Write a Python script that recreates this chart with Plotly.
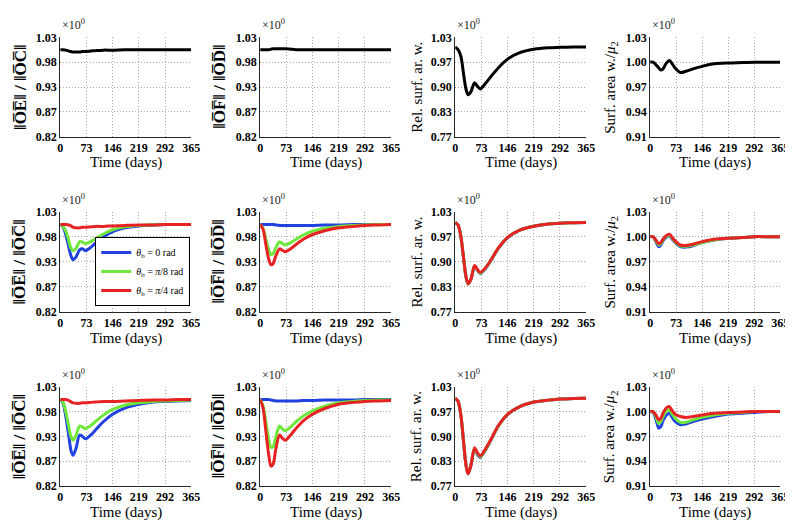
import plotly.graph_objects as go
from plotly.subplots import make_subplots

# ── Data ──────────────────────────────────────────────────────────────
T_DAYS = [0, 8, 16, 24, 30, 36, 44, 54, 62, 70, 85, 100, 120, 146, 180, 219, 260, 292, 330, 365]
X_TICKS = [0, 73, 146, 219, 292, 365]

# row 1: one black curve per panel
R1_OE_OC = [1.004, 1.004, 1.003, 1.001, 1.000, 0.999, 0.999, 0.999, 1.000, 1.000,
            1.001, 1.002, 1.003, 1.003, 1.004, 1.004, 1.004, 1.004, 1.004, 1.004]
R1_OF_OD = [1.004, 1.004, 1.004, 1.004, 1.005, 1.006, 1.006, 1.006, 1.006, 1.006,
            1.005, 1.004, 1.004, 1.004, 1.004, 1.004, 1.004, 1.004, 1.004, 1.004]
R1_REL_SURF = [1.005, 0.998, 0.980, 0.930, 0.895, 0.880, 0.888, 0.911, 0.902, 0.895,
               0.910, 0.928, 0.950, 0.973, 0.990, 0.999, 1.003, 1.004, 1.005, 1.005]
R1_SURF_MU = [1.000, 1.000, 0.997, 0.993, 0.9905, 0.992, 0.998, 1.002, 0.998, 0.993,
              0.9875, 0.989, 0.992, 0.995, 0.998, 0.999, 0.9995, 1.000, 1.000, 1.000]

# row 2: theta_b = 0, pi/8, pi/4
R2_OE_OC_0 = [1.003, 0.998, 0.980, 0.955, 0.937, 0.929, 0.935, 0.950, 0.952, 0.948,
              0.955, 0.965, 0.977, 0.988, 0.996, 1.000, 1.002, 1.003, 1.003, 1.003]
R2_OE_OC_8 = [1.003, 0.999, 0.988, 0.968, 0.953, 0.948, 0.953, 0.967, 0.966, 0.963,
              0.967, 0.974, 0.983, 0.992, 0.998, 1.001, 1.002, 1.003, 1.003, 1.003]
R2_OE_OC_4 = [1.003, 1.003, 1.003, 1.002, 1.000, 0.997, 0.996, 0.996, 0.997, 0.997,
              0.998, 0.999, 0.999, 1.000, 1.001, 1.002, 1.002, 1.003, 1.003, 1.003]

R2_OF_OD_0 = [1.003, 1.003, 1.003, 1.003, 1.003, 1.003, 1.002, 1.001, 1.001, 1.001,
              1.001, 1.001, 1.001, 1.001, 1.002, 1.002, 1.003, 1.003, 1.003, 1.003]
R2_OF_OD_8 = [1.003, 0.995, 0.972, 0.950, 0.940, 0.942, 0.955, 0.967, 0.963, 0.960,
              0.965, 0.972, 0.981, 0.989, 0.995, 0.999, 1.001, 1.002, 1.003, 1.003]
R2_OF_OD_4 = [1.003, 0.993, 0.960, 0.930, 0.919, 0.921, 0.938, 0.952, 0.949, 0.946,
              0.952, 0.961, 0.972, 0.982, 0.990, 0.996, 0.999, 1.001, 1.002, 1.003]

R2_REL_SURF_0 = [1.002, 0.995, 0.965, 0.905, 0.861, 0.842, 0.854, 0.889, 0.878, 0.869,
                 0.883, 0.904, 0.934, 0.962, 0.982, 0.992, 0.998, 1.000, 1.001, 1.002]
R2_REL_SURF_8 = [1.002, 0.995, 0.965, 0.905, 0.862, 0.842, 0.855, 0.889, 0.879, 0.870,
                 0.884, 0.904, 0.935, 0.963, 0.982, 0.992, 0.998, 1.000, 1.001, 1.002]
R2_REL_SURF_4 = [1.002, 0.995, 0.965, 0.905, 0.862, 0.843, 0.855, 0.890, 0.880, 0.872,
                 0.885, 0.905, 0.935, 0.963, 0.982, 0.992, 0.998, 1.000, 1.001, 1.002]

R2_SURF_MU_0 = [1.000, 1.000, 0.994, 0.988, 0.990, 0.995, 0.999, 1.001, 0.997, 0.993,
                0.988, 0.9875, 0.989, 0.993, 0.996, 0.998, 0.999, 1.000, 1.000, 1.000]
R2_SURF_MU_8 = [1.000, 1.000, 0.995, 0.990, 0.9915, 0.996, 1.000, 1.002, 0.998, 0.994,
                0.989, 0.9885, 0.990, 0.993, 0.996, 0.998, 0.999, 1.000, 1.000, 1.000]
R2_SURF_MU_4 = [1.000, 1.000, 0.996, 0.9915, 0.993, 0.997, 1.001, 1.003, 0.999, 0.995,
                0.990, 0.9895, 0.991, 0.994, 0.997, 0.998, 0.999, 1.000, 1.000, 1.000]

# row 3: theta_b = 0, pi/8, pi/4
R3_OE_OC_0 = [1.003, 0.995, 0.965, 0.925, 0.895, 0.885, 0.900, 0.928, 0.925, 0.920,
              0.928, 0.940, 0.956, 0.972, 0.985, 0.993, 0.998, 0.999, 1.000, 1.001]
R3_OE_OC_8 = [1.003, 0.997, 0.975, 0.945, 0.924, 0.917, 0.927, 0.947, 0.945, 0.941,
              0.948, 0.958, 0.970, 0.982, 0.991, 0.996, 0.999, 1.000, 1.001, 1.002]
R3_OE_OC_4 = [1.003, 1.003, 1.003, 1.001, 0.998, 0.996, 0.995, 0.995, 0.996, 0.996,
              0.997, 0.998, 0.999, 0.999, 1.000, 1.001, 1.002, 1.002, 1.003, 1.003]

R3_OF_OD_0 = [1.003, 1.003, 1.003, 1.003, 1.002, 1.001, 1.000, 1.000, 1.000, 1.000,
              1.000, 1.000, 1.001, 1.001, 1.002, 1.002, 1.002, 1.003, 1.003, 1.003]
R3_OF_OD_8 = [1.003, 0.990, 0.955, 0.918, 0.902, 0.903, 0.925, 0.947, 0.941, 0.937,
              0.945, 0.956, 0.968, 0.979, 0.989, 0.996, 0.999, 1.001, 1.002, 1.002]
R3_OF_OD_4 = [1.003, 0.985, 0.935, 0.885, 0.862, 0.866, 0.900, 0.928, 0.921, 0.917,
              0.928, 0.942, 0.958, 0.972, 0.984, 0.993, 0.997, 0.999, 1.000, 1.001]

R3_REL_SURF_0 = [1.000, 0.992, 0.955, 0.880, 0.825, 0.802, 0.825, 0.869, 0.853, 0.845,
                 0.865, 0.891, 0.927, 0.957, 0.978, 0.990, 0.995, 0.998, 0.999, 1.000]
R3_REL_SURF_8 = [1.000, 0.992, 0.955, 0.880, 0.825, 0.802, 0.825, 0.869, 0.855, 0.847,
                 0.866, 0.892, 0.927, 0.958, 0.978, 0.990, 0.995, 0.998, 0.999, 1.000]
R3_REL_SURF_4 = [1.000, 0.992, 0.955, 0.880, 0.825, 0.802, 0.825, 0.870, 0.857, 0.849,
                 0.868, 0.893, 0.928, 0.958, 0.978, 0.990, 0.995, 0.998, 0.999, 1.000]

R3_SURF_MU_0 = [1.000, 0.999, 0.991, 0.980, 0.982, 0.989, 0.995, 0.998, 0.993, 0.988,
                0.984, 0.985, 0.988, 0.991, 0.994, 0.997, 0.998, 0.999, 1.000, 1.000]
R3_SURF_MU_8 = [1.000, 1.000, 0.994, 0.9855, 0.988, 0.994, 1.000, 1.002, 0.997, 0.992,
                0.987, 0.987, 0.990, 0.993, 0.996, 0.998, 0.999, 1.000, 1.000, 1.000]
R3_SURF_MU_4 = [1.000, 1.000, 0.996, 0.990, 0.992, 0.998, 1.004, 1.006, 1.001, 0.997,
                0.994, 0.993, 0.994, 0.996, 0.998, 0.999, 0.9995, 1.000, 1.000, 1.000]

# y axes per column
Y_TICKS_RATIO = [0.82, 0.8725, 0.925, 0.9775, 1.03]
Y_LABELS_RATIO = ["0.82", "0.87", "0.93", "0.98", "1.03"]
Y_TICKS_REL = [0.77, 0.835, 0.90, 0.965, 1.03]
Y_LABELS_REL = ["0.77", "0.83", "0.90", "0.97", "1.03"]
Y_TICKS_MU = [0.91, 0.94, 0.97, 1.00, 1.03]
Y_LABELS_MU = ["0.91", "0.94", "0.97", "1.00", "1.03"]

Y_TITLES = [
    "<b>‖O\u0305E\u0305‖ / ‖O\u0305C\u0305‖</b>",
    "<b>‖O\u0305F\u0305‖ / ‖O\u0305D\u0305‖</b>",
    "Rel. surf. ar. w.",
    "Surf. area w./<i>μ</i><sub>2</sub>",
]
Y_TITLE_SIZES = [17, 17, 15, 15]
LEGEND_NAMES = [
    "<i>θ</i><sub>b</sub> = 0 rad",
    "<i>θ</i><sub>b</sub> = <i>π</i>/8 rad",
    "<i>θ</i><sub>b</sub> = <i>π</i>/4 rad",
]
COLORS = ["#2142e0", "#6ee63a", "#e62222"]

W, H = 793, 523
COL_PX = [(50, 183), (253, 386), (451, 584), (649, 781)]
ROW_PX = [(23, 125), (202, 305), (382, 484)]
Y_TITLE_X = [9, 211, 412, 609]
SERIF = "Liberation Serif"
GRID_DASH = "1px,2px"

ROWS = [
    [[R1_OE_OC], [R1_OF_OD], [R1_REL_SURF], [R1_SURF_MU]],
    [[R2_OE_OC_0, R2_OE_OC_8, R2_OE_OC_4], [R2_OF_OD_0, R2_OF_OD_8, R2_OF_OD_4],
     [R2_REL_SURF_0, R2_REL_SURF_8, R2_REL_SURF_4], [R2_SURF_MU_0, R2_SURF_MU_8, R2_SURF_MU_4]],
    [[R3_OE_OC_0, R3_OE_OC_8, R3_OE_OC_4], [R3_OF_OD_0, R3_OF_OD_8, R3_OF_OD_4],
     [R3_REL_SURF_0, R3_REL_SURF_8, R3_REL_SURF_4], [R3_SURF_MU_0, R3_SURF_MU_8, R3_SURF_MU_4]],
]
Y_AXES = [
    (Y_TICKS_RATIO, Y_LABELS_RATIO),
    (Y_TICKS_RATIO, Y_LABELS_RATIO),
    (Y_TICKS_REL, Y_LABELS_REL),
    (Y_TICKS_MU, Y_LABELS_MU),
]

fig = make_subplots(rows=3, cols=4)

for r, row in enumerate(ROWS):
    for c, series in enumerate(row):
        for k, ys in enumerate(series):
            color = "#000000" if len(series) == 1 else COLORS[k]
            fig.add_trace(
                go.Scatter(
                    x=T_DAYS, y=ys, mode="lines",
                    line={"color": color, "width": 3, "shape": "spline", "smoothing": 0.8},
                    name=LEGEND_NAMES[k] if len(series) > 1 else "",
                    showlegend=(r == 1 and c == 0),
                ),
                row=r + 1, col=c + 1,
            )

tick_font = {"family": SERIF, "size": 12, "color": "#000000", "weight": "bold"}
annotations = []
for r in range(3):
    for c in range(4):
        n = r * 4 + c + 1
        sfx = "" if n == 1 else str(n)
        x0, x1 = COL_PX[c]
        y0, y1 = ROW_PX[r]
        tickvals, ticktext = Y_AXES[c]
        fig.layout[f"xaxis{sfx}"].update(
            domain=[x0 / W, x1 / W], range=[0, 365], tickvals=X_TICKS,
            showline=True, linecolor="#262626", linewidth=1,
            showgrid=True, gridcolor="#a8a8a8", griddash=GRID_DASH, gridwidth=1,
            zeroline=False, ticks="", tickfont=tick_font,
        )
        fig.layout[f"yaxis{sfx}"].update(
            domain=[1 - y1 / H, 1 - y0 / H], range=[tickvals[0], tickvals[-1]],
            tickvals=tickvals, ticktext=ticktext,
            showline=True, linecolor="#262626", linewidth=1,
            showgrid=True, gridcolor="#a8a8a8", griddash=GRID_DASH, gridwidth=1,
            zeroline=False, ticks="", tickfont=tick_font,
        )
        # y title
        annotations.append(dict(
            text=Y_TITLES[c], xref="paper", yref="paper",
            x=Y_TITLE_X[c] / W, y=1 - (y0 + y1) / 2 / H, textangle=-90,
            xanchor="center", yanchor="middle", showarrow=False,
            font={"family": SERIF, "size": Y_TITLE_SIZES[c], "color": "#000000"},
        ))
        # x title
        annotations.append(dict(
            text="Time (days)", xref="paper", yref="paper",
            x=(x0 + x1) / 2 / W, y=1 - (y1 + 27) / H,
            xanchor="center", yanchor="middle", showarrow=False,
            font={"family": SERIF, "size": 15, "color": "#000000"},
        ))
        # exponent label
        annotations.append(dict(
            text="×10<sup>0</sup>", xref="paper", yref="paper",
            x=x0 / W, y=1 - (y0 - 3) / H,
            xanchor="left", yanchor="bottom", showarrow=False,
            font={"family": SERIF, "size": 12, "color": "#222222"},
        ))

fig.update_layout(
    width=W, height=H,
    margin={"l": 0, "r": 0, "t": 0, "b": 0},
    paper_bgcolor="#ffffff", plot_bgcolor="#ffffff",
    annotations=annotations,
    legend={
        "x": 182 / W, "xanchor": "right", "y": 1 - 299 / H, "yanchor": "bottom",
        "bgcolor": "#ffffff", "bordercolor": "#000000", "borderwidth": 1,
        "font": {"family": SERIF, "size": 10, "color": "#000000"},
        "tracegroupgap": 0, "itemwidth": 30,
    },
)

fig.write_html("out.html")
